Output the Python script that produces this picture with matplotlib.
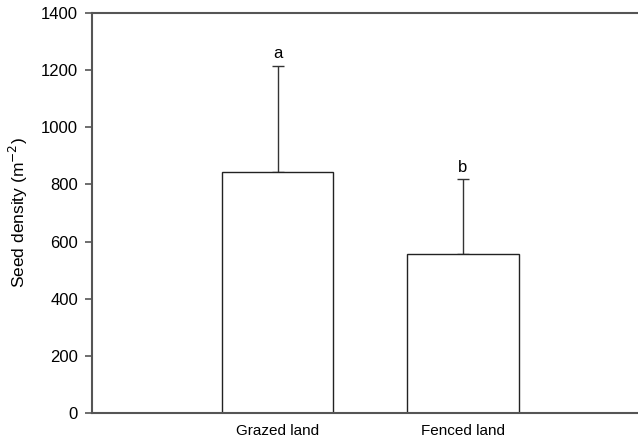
import matplotlib
matplotlib.use("Agg")
import matplotlib.pyplot as plt

plt.rcParams['font.family'] = ['Liberation Sans', 'DejaVu Sans']

categories = ['Grazed land', 'Fenced land']
means = [845, 558]
errors = [371, 260]
letters = ['a', 'b']

fig = plt.figure(figsize=(6.38, 4.41), dpi=100)
ax = fig.add_axes([92 / 638, 28 / 441, 1 - 92 / 638, 400 / 441])

pos = [1, 2]
ax.bar(pos, means, width=0.6, color='white', edgecolor='#222222', linewidth=1.0, zorder=2)
ax.errorbar(pos, means, yerr=[[0, 0], errors], fmt='none', ecolor='#333333',
            elinewidth=1.0, capsize=4.5, capthick=1.0, zorder=1)

for x, m, e, l in zip(pos, means, errors, letters):
    ax.annotate(l, (x, m + e), xytext=(0, 3), textcoords='offset points',
                ha='center', va='bottom', fontsize=12)

ax.set_xlim(0, 546 / 185.5)
ax.set_ylim(0, 1400)
ax.set_yticks(range(0, 1401, 200))
ax.set_xticks(pos)
ax.set_xticklabels(categories, fontsize=11)
ax.tick_params(axis='x', length=0, pad=8)
ax.tick_params(axis='y', direction='out', length=5, width=1.2, color='#555555',
               labelsize=12, pad=5)
ax.set_ylabel('Seed density (m$^{-2}$)', fontsize=12.5, labelpad=8)

for s in ['left', 'bottom', 'top']:
    ax.spines[s].set_color('#555555')
    ax.spines[s].set_linewidth(1.5)
ax.spines['right'].set_visible(False)

fig.savefig('out.png', dpi=100)
